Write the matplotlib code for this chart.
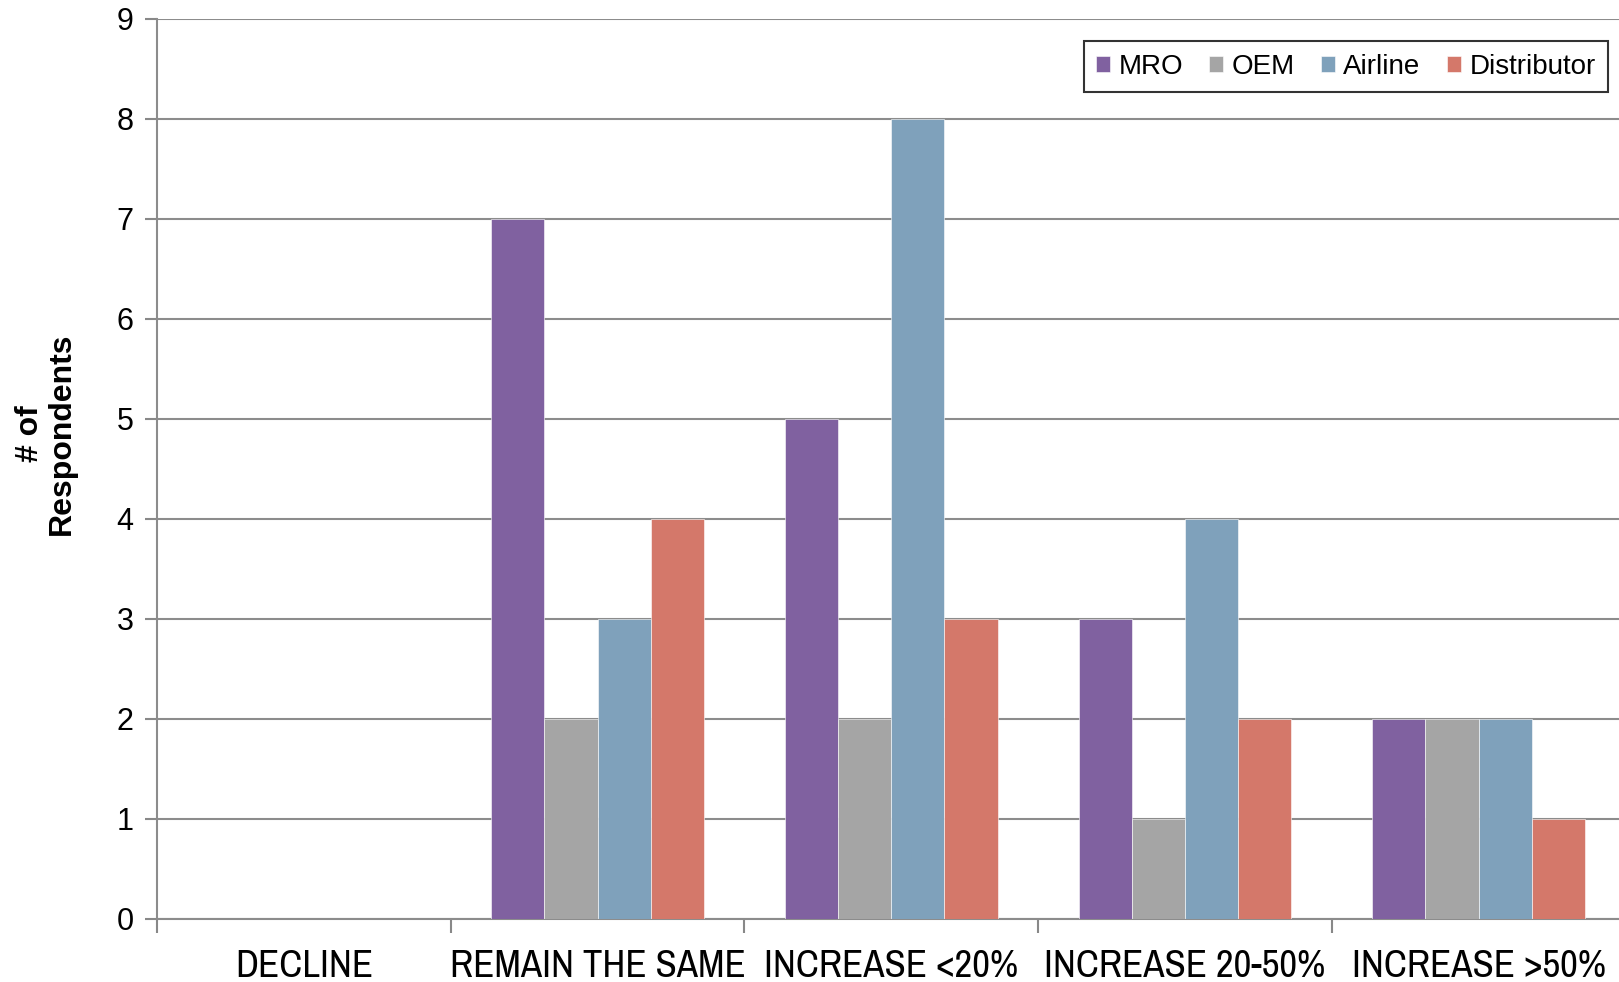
import matplotlib
matplotlib.use("Agg")
import matplotlib.pyplot as plt
import numpy as np
from matplotlib import font_manager as fm

categories = ["DECLINE", "REMAIN THE SAME", "INCREASE <20%", "INCREASE 20-50%", "INCREASE >50%"]
series_names = ["MRO", "OEM", "Airline", "Distributor"]
mro = [0, 7, 5, 3, 2]
oem = [0, 2, 2, 1, 2]
airline = [0, 3, 8, 4, 2]
distributor = [0, 4, 3, 2, 1]
colors = ["#8061A0", "#A5A5A5", "#7FA1BB", "#D4786A"]
yticks = list(range(0, 10))

names = {f.name for f in fm.fontManager.ttflist}
base = "Liberation Sans" if "Liberation Sans" in names else "DejaVu Sans"
narrow = base
for cand in ["Liberation Sans Narrow", "Arial Narrow", "Archivo Narrow", "PT Sans Narrow",
             "Roboto Condensed", "Open Sans Condensed", "Asap Condensed"]:
    if cand in names:
        narrow = cand
        break
plt.rcParams['font.family'] = [base, 'DejaVu Sans']

W, H = 1619, 982
fig = plt.figure(figsize=(W / 100, H / 100), dpi=100)
left = 157 / W
bottom = 1 - 919 / H
top = 1 - 19 / H
width = 5 * 293.7 / W
ax = fig.add_axes([left, bottom, width, top - bottom])
ax_w = width * W
ax_h = 900

x = np.arange(len(categories))
bw = 0.181
data = [mro, oem, airline, distributor]
for i, (vals, c, n) in enumerate(zip(data, colors, series_names)):
    ax.bar(x + (i - 1.5) * bw, vals, bw, color=c, label=n, zorder=3,
           edgecolor="white", linewidth=0.4)

ax.set_xlim(-0.5, len(categories) - 0.5)
ax.set_ylim(0, 9)
ax.set_yticks(yticks)
ax.set_yticklabels([str(v) for v in yticks], fontsize=22)
ax.set_xticks(np.arange(-0.5, len(categories), 1.0))
ax.set_xticklabels([])
ax.tick_params(axis='x', which='major', length=10, color="#888888", width=1.5)
ax.tick_params(axis='y', length=9, color="#888888", width=1.5, pad=8)

# category labels, baseline placed just above the figure's bottom edge
for xi, lab in zip(x, categories):
    ax.text(xi, -(977 - 919) / ax_h, lab, transform=ax.get_xaxis_transform(),
            ha="center", va="baseline", fontsize=28, family=[narrow, 'DejaVu Sans'])

ax.grid(axis='y', color="#8C8C8C", linewidth=1.5, zorder=0)
ax.set_axisbelow(True)
for s in ["top", "right"]:
    ax.spines[s].set_visible(False)
for s in ["left", "bottom"]:
    ax.spines[s].set_color("#8C8C8C")
    ax.spines[s].set_linewidth(1.5)

leg = ax.legend(loc="upper right", bbox_to_anchor=((1608 - 157) / ax_w, 1 - (41 - 19) / ax_h),
                ncol=4, fontsize=20, frameon=True, fancybox=False, edgecolor="black",
                handlelength=0.5, handleheight=0.5, handletextpad=0.3, columnspacing=0.95,
                borderpad=0.45, borderaxespad=0)
leg.get_frame().set_linewidth(1.5)

fig.text(46 / W, 1 - 434 / H, "# of\nRespondents", rotation=90, ha="center", va="center",
         fontsize=23, fontweight="bold", multialignment="center", linespacing=1.1)

fig.savefig("out.png", dpi=100)
